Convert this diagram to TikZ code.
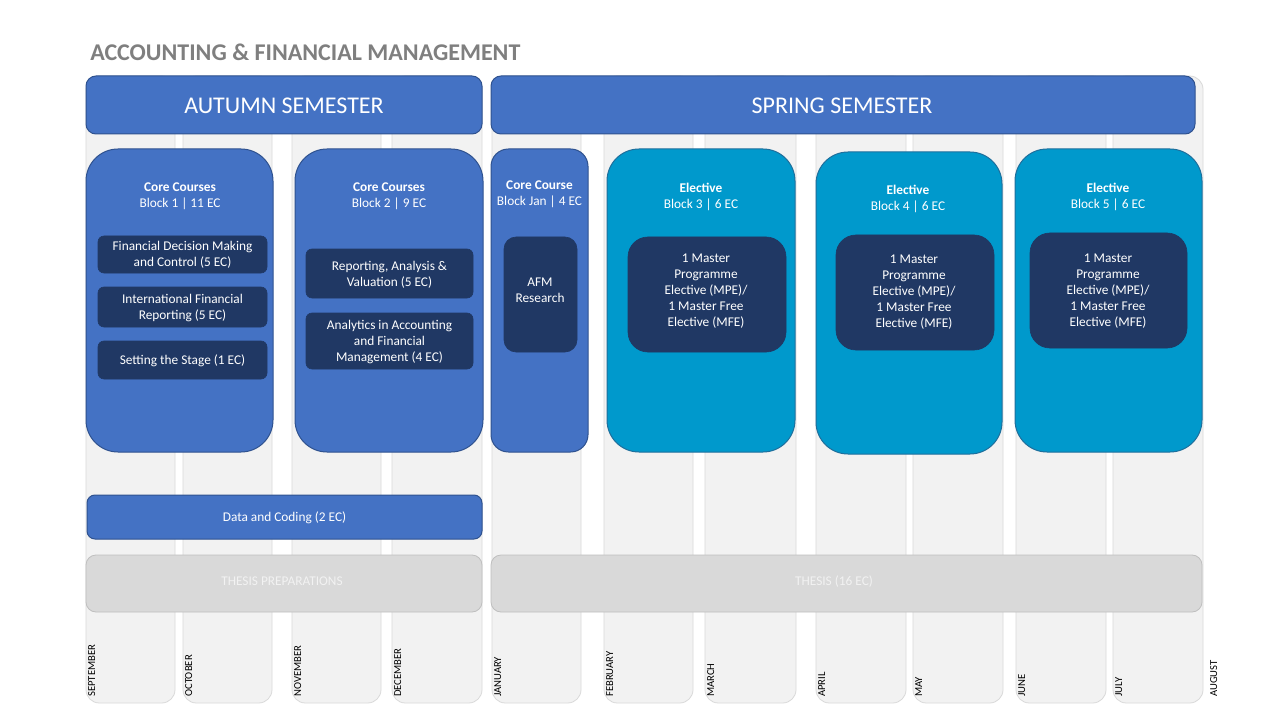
\documentclass[tikz,border=0pt]{standalone}
\usepackage{fontspec}
\setmainfont{Carlito}
\definecolor{accent}{HTML}{4472C4}
\definecolor{accentdk}{HTML}{2F528F}
\definecolor{elect}{HTML}{0099CC}
\definecolor{electdk}{HTML}{1F6F9C}
\definecolor{navy}{HTML}{203864}
\definecolor{colfill}{HTML}{F2F2F2}
\definecolor{colline}{HTML}{D9D9D9}
\definecolor{thesisfill}{HTML}{D9D9D9}
\definecolor{thesisline}{HTML}{BFBFBF}
\definecolor{thesistext}{HTML}{F2F2F2}
\definecolor{titlegray}{HTML}{7F7F7F}
\begin{document}
\begin{tikzpicture}[x=0.75pt,y=-0.75pt,
  monthcol/.style={fill=colfill, draw=colline, line width=0.6pt, rounded corners=10pt},
  monthlbl/.style={rotate=90, anchor=north west, inner sep=0pt, font=\fontsize{8}{9.6}\selectfont, text=black},
  header/.style={fill=accent, draw=accentdk, line width=0.75pt, rounded corners=7.5pt},
  htext/.style={text=white, font=\fontsize{18}{21.6}\selectfont, inner sep=0pt},
  block/.style={fill=accent, draw=accentdk, line width=0.75pt, rounded corners=24pt},
  sblock/.style={fill=accent, draw=accentdk, line width=0.75pt, rounded corners=13pt},
  eblock/.style={fill=elect, draw=electdk, line width=0.75pt, rounded corners=24pt},
  innerbox/.style={fill=navy, draw=navy, line width=0.5pt, rounded corners=4.5pt},
  bigin/.style={fill=navy, draw=navy, line width=0.5pt, rounded corners=15pt},
  midin/.style={fill=navy, draw=navy, line width=0.5pt, rounded corners=9pt},
  ttext/.style={text=white, font=\fontsize{10}{12}\selectfont, align=center, inner sep=0pt},
  bar/.style={fill=accent, draw=accentdk, line width=0.75pt, rounded corners=6pt},
  thesis/.style={fill=thesisfill, draw=thesisline, line width=0.6pt, rounded corners=7.5pt},
  thtext/.style={text=thesistext, font=\fontsize{10}{12}\selectfont, inner sep=0pt}
]
\useasboundingbox (0,0) rectangle (1280,720);
\fill[white] (0,0) rectangle (1280,720);

% month columns
\foreach \a/\b/\m/\n in {86/175/SEPTEMBER/sep, 183/272/OCTOBER/oct, 292/381/NOVEMBER/nov, 392/482/DECEMBER/dec, 492/581/JANUARY/jan, 604/693/FEBRUARY/feb, 705/796/MARCH/mar, 816/906/APRIL/apr, 913/1003/MAY/may, 1016/1106/JUNE/jun, 1113/1203/JULY/jul}{
  \draw[monthcol] (\a,76) rectangle (\b,703);
  \node[monthlbl] (\n) at (\a+2,697) {\m};
}
\node[monthlbl] (aug) at (1210,697) {AUGUST};

% title
\node[anchor=west, inner sep=0pt, text=titlegray, font=\bfseries\fontsize{18}{21.6}\selectfont] (title) at (90,52.5) {ACCOUNTING \& FINANCIAL MANAGEMENT};

% semester headers
\draw[header] (86,76) rectangle (482,134);
\node[htext] (autumn) at (284,106) {AUTUMN SEMESTER};
\draw[header] (491,76) rectangle (1195,134);
\node[htext] (spring) at (842,106) {SPRING SEMESTER};

% block 1
\draw[block] (86,149) rectangle (273,452);
\node[ttext] (b1t) at (180,196.5) {\textbf{Core Courses}\\Block 1 | 11 EC};
\draw[innerbox] (98,236) rectangle (267,273);
\node[ttext] (b1a) at (182.5,255) {Financial Decision Making\\and Control (5 EC)};
\draw[innerbox] (98,287) rectangle (267,327);
\node[ttext] (b1b) at (182.5,308) {International Financial\\Reporting (5 EC)};
\draw[innerbox] (98,341) rectangle (267,379);
\node[ttext] (b1c) at (182.5,360.5) {Setting the Stage (1 EC)};

% block 2
\draw[block] (295,149) rectangle (483,452);
\node[ttext] (b2t) at (389,196.5) {\textbf{Core Courses}\\Block 2 | 9 EC};
\draw[innerbox] (306,249) rectangle (473,298);
\node[ttext] (b2a) at (389.5,274.5) {Reporting, Analysis \&\\Valuation (5 EC)};
\draw[innerbox] (306,313) rectangle (473,369);
\node[ttext] (b2b) at (389.5,342) {Analytics in Accounting\\and Financial\\Management (4 EC)};

% block jan
\draw[sblock] (491,149) rectangle (588,452);
\node[ttext] (bjt) at (539.5,194.5) {\textbf{Core Course}\\Block Jan | 4 EC};
\draw[midin] (504,237) rectangle (577,352);
\node[ttext] (bja) at (540,290) {AFM\\Research};

% block 3
\draw[eblock] (607,149) rectangle (795,452);
\node[ttext] (b3t) at (701,196.5) {\textbf{Elective}\\Block 3 | 6 EC};
\draw[bigin] (628,237) rectangle (786,352);
\node[ttext] (b3a) at (706,291.5) {1 Master\\Programme\\Elective (MPE)/\\1 Master Free\\Elective (MFE)};

% block 4
\draw[eblock] (816,152) rectangle (1002,454);
\node[ttext] (b4t) at (908,198.5) {\textbf{Elective}\\Block 4 | 6 EC};
\draw[bigin] (836,235) rectangle (994,350);
\node[ttext] (b4a) at (914,292.5) {1 Master\\Programme\\Elective (MPE)/\\1 Master Free\\Elective (MFE)};

% block 5
\draw[eblock] (1015,149) rectangle (1202,452);
\node[ttext] (b5t) at (1108,196.5) {\textbf{Elective}\\Block 5 | 6 EC};
\draw[bigin] (1030,233) rectangle (1187,348);
\node[ttext] (b5a) at (1108,291.5) {1 Master\\Programme\\Elective (MPE)/\\1 Master Free\\Elective (MFE)};

% data and coding
\draw[bar] (87,495) rectangle (482,539);
\node[ttext] (data) at (284.5,518) {Data and Coding (2 EC)};

% thesis bars
\draw[thesis] (86,555) rectangle (482,612);
\node[thtext] (thprep) at (282,581.5) {THESIS PREPARATIONS};
\draw[thesis] (491,555) rectangle (1202,612);
\node[thtext] (thesis) at (834,581.5) {THESIS (16 EC)};
\end{tikzpicture}
\end{document}
